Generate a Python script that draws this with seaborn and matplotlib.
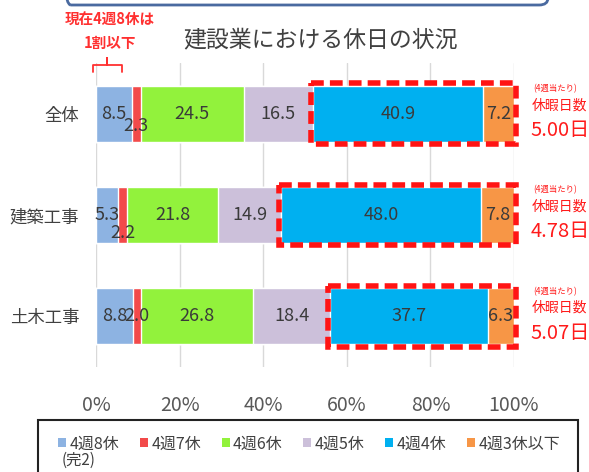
import matplotlib
matplotlib.use("Agg")
import matplotlib.pyplot as plt
import seaborn as sns
import pandas as pd
import numpy as np
from matplotlib.patches import Rectangle, FancyBboxPatch, Patch
from matplotlib.lines import Line2D
import matplotlib.transforms as mtransforms

# ---------------- data ----------------
categories = ["全体", "建築工事", "土木工事"]
series = ["4週8休", "4週7休", "4週6休", "4週5休", "4週4休", "4週3休以下"]
v_8 = [8.5, 5.3, 8.8]
v_7 = [2.3, 2.2, 2.0]
v_6 = [24.5, 21.8, 26.8]
v_5 = [16.5, 14.9, 18.4]
v_4 = [40.9, 48.0, 37.7]
v_3 = [7.2, 7.8, 6.3]
holiday_days = ["5.00日", "4.78日", "5.07日"]
xticks = [0, 20, 40, 60, 80, 100]
xtick_labels = ["0%", "20%", "40%", "60%", "80%", "100%"]

colors = ["#8db3e2", "#f24a4a", "#92f23c", "#ccc0da", "#00b0f0", "#f79646"]
label_dy = [[0, 0, 0], [-9, -13, 0], [0, 0, 0], [0, 0, 0], [0, 0, 0], [0, 0, 0]]

values = [v_8, v_7, v_6, v_5, v_4, v_3]
df = pd.DataFrame({s: v for s, v in zip(series, values)}, index=categories)
cum = df.cumsum(axis=1)

sns.set_theme(style="white")
plt.rcParams["font.family"] = ["Noto Sans CJK JP", "DejaVu Sans"]

W, H = 589, 472
fig = plt.figure(figsize=(W / 100, H / 100), dpi=100)
ax = fig.add_axes([96 / W, 1 - 367 / H, (514 - 96) / W, (367 - 63) / H])

bar_h = 0.55
for i in range(len(series) - 1, -1, -1):
    s = series[i]
    d = pd.DataFrame({"cat": categories, "val": cum[s].values})
    sns.barplot(data=d, x="val", y="cat", orient="h", color=colors[i],
                saturation=1, width=bar_h, ax=ax, zorder=2, errorbar=None)

ax.set_xlim(0, 100)
ax.set_ylim(2.5, -0.5)
ax.set_xlabel("")
ax.set_ylabel("")
for sp in ax.spines.values():
    sp.set_visible(False)
ax.set_xticks(xticks)
ax.set_xticklabels(xtick_labels, fontsize=14, color="#595959")
ax.tick_params(axis="x", length=0, pad=20)
ax.tick_params(axis="y", length=0, pad=12, labelsize=12.5, labelcolor="#404040")
ax.xaxis.grid(True, color="#d9d9d9", linewidth=1, zorder=0)
ax.set_axisbelow(True)

# segment labels
for i, s in enumerate(series):
    for j, c in enumerate(categories):
        v = df.loc[c, s]
        xc = cum.loc[c, s] - v / 2
        ax.annotate(f"{v:.1f}", (xc, j), xytext=(0, label_dy[i][j]),
                    textcoords="offset points", ha="center", va="center",
                    fontsize=13, color="#3a3a3a", zorder=5)

# red dashed boxes around 4週4休 + 4週3休以下
for j, c in enumerate(categories):
    x0 = cum.loc[c, "4週5休"] - 0.4
    x1 = 100.5
    rect = Rectangle((x0, j - 0.3), x1 - x0, 0.6, fill=False,
                     edgecolor="#ff1414", linewidth=4,
                     linestyle=(0, (2.3, 1.1)), zorder=6, clip_on=False)
    ax.add_patch(rect)

# right-side annotations
for j, c in enumerate(categories):
    ax.annotate("(4週当たり)", (1, j), xycoords=("axes fraction", "data"),
                xytext=(14, 18), textcoords="offset points", ha="left",
                va="center", fontsize=6, color="#ff1a1a", annotation_clip=False)
    ax.annotate("休暇日数", (1, j), xycoords=("axes fraction", "data"),
                xytext=(13, 6), textcoords="offset points", ha="left",
                va="center", fontsize=10, color="#ff1a1a", annotation_clip=False)
    ax.annotate(holiday_days[j], (1, j), xycoords=("axes fraction", "data"),
                xytext=(12, -12), textcoords="offset points", ha="left",
                va="center", fontsize=14.5, color="#ff1a1a", annotation_clip=False)

# title
fig.text(320 / W, 1 - 40 / H, "建設業における休日の状況", ha="center", va="center",
         fontsize=16.5, color="#404040")

# top-left red note
fig.text(110 / W, 1 - 20 / H, "現在4週8休は", ha="center", va="center",
         fontsize=10.5, color="#ff3030", fontweight="bold")
fig.text(110 / W, 1 - 43 / H, "1割以下", ha="center", va="center",
         fontsize=10.5, color="#ff3030", fontweight="bold")
trans = mtransforms.blended_transform_factory(ax.transData, ax.transAxes)
bx = [-0.7, -0.7, 2.6, 2.6, 2.6, 6.2, 6.2]
by = [0.970, 0.993, 0.993, 1.016, 0.993, 0.993, 0.970]
ax.add_line(Line2D(bx, by, transform=trans, color="#ff3030", linewidth=1.3,
                   clip_on=False))

# top blue rounded frame (partial)
fig.patches.append(FancyBboxPatch((62 / W, 1 - 5 / H), (548 - 62) / W, 0.2,
                                  boxstyle="round,pad=0,rounding_size=0.015",
                                  transform=fig.transFigure, facecolor="none",
                                  edgecolor="#4a6aa0", linewidth=2))

# legend frame
fig.patches.append(Rectangle((38 / W, -0.1), (578 - 38) / W, (0.1 + 1 - 420 / H),
                             transform=fig.transFigure, facecolor="none",
                             edgecolor="#222222", linewidth=1.5))
handles = [Patch(facecolor=col, edgecolor="none") for col in colors]
fig.legend(handles, series, ncol=6, loc="upper left",
           bbox_to_anchor=(44 / W, 1 - 421 / H), frameon=False,
           fontsize=11.5, handlelength=0.5, handleheight=0.5,
           handletextpad=0.2, columnspacing=1.3, labelcolor="#404040")
fig.text(62 / W, 1 - 460 / H, "(完2)", ha="left", va="center",
         fontsize=11, color="#404040")

fig.savefig("out.png", dpi=100)
